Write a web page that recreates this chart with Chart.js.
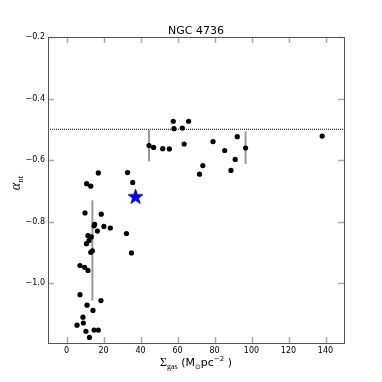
<!DOCTYPE html>
<html>
<head>
<meta charset="utf-8">
<script src="https://cdn.jsdelivr.net/npm/chart.js@4/dist/chart.umd.min.js"></script>
<style>
  html, body { margin: 0; padding: 0; background: #fff; }
  canvas { display: block; }
</style>
</head>
<body>
<canvas id="chart" width="382" height="382"></canvas>
<script>
// gas surface density vs non-thermal spectral index
const gasX = [44.6, 47.1, 52.0, 55.6, 57.7, 58.1, 62.6, 66.0, 63.6, 71.9, 73.7, 79.2, 85.5, 88.9, 91.2, 92.3, 96.8, 138.2,
  17.2, 10.9, 13.1, 33.0, 35.8, 10.0, 18.8, 15.2, 14.9, 20.2, 23.7, 16.7, 32.4, 11.6, 13.4, 10.8, 12.2, 14.0, 13.1, 35.1,
  7.3, 9.8, 11.6, 7.3, 18.6, 11.1, 14.3, 8.9, 9.1, 5.7, 10.5, 14.9, 17.2, 12.4];
const alphaNt = [-0.553, -0.559, -0.563, -0.564, -0.474, -0.498, -0.496, -0.474, -0.548, -0.646, -0.618, -0.540, -0.569, -0.634, -0.598, -0.524, -0.561, -0.522,
  -0.642, -0.677, -0.685, -0.641, -0.673, -0.772, -0.776, -0.809, -0.814, -0.816, -0.821, -0.831, -0.839, -0.846, -0.850, -0.872, -0.862, -0.895, -0.900, -0.902,
  -0.943, -0.949, -0.959, -1.038, -1.057, -1.072, -1.089, -1.111, -1.130, -1.137, -1.157, -1.153, -1.153, -1.177];

// global (integrated) value shown as a star
const starX = [37.3];
const starY = [-0.718];

// representative error bars
const errX = [14.0, 44.6, 96.8];
const errY = [-0.894, -0.553, -0.560];
const errSize = [0.163, 0.051, 0.053];

// reference level (dotted line)
const refLevel = -0.5;

const xTicks = [0, 20, 40, 60, 80, 100, 120, 140];
const yTicks = [-0.2, -0.4, -0.6, -0.8, -1.0];
const xRange = [-10, 150];
const yRange = [-1.195, -0.2];

// five pointed star used as point style
function makeStar(size) {
  const c = document.createElement('canvas');
  c.width = size; c.height = size;
  const g = c.getContext('2d');
  const cx = size / 2, cy = size / 2 + 0.8, ro = size / 2 - 0.6, ri = ro * 0.4;
  g.beginPath();
  for (let i = 0; i < 10; i++) {
    const r = i % 2 === 0 ? ro : ri;
    const a = -Math.PI / 2 + i * Math.PI / 5;
    g.lineTo(cx + r * Math.cos(a), cy + r * Math.sin(a));
  }
  g.closePath();
  g.fillStyle = '#0000ff';
  g.fill();
  g.strokeStyle = '#00008b';
  g.lineWidth = 0.8;
  g.stroke();
  return c;
}

function minusFmt(v) {
  return (v < 0 ? '\u2212' : '') + Math.abs(v).toFixed(1);
}

// frame, inward ticks, title and axis labels
const decor = {
  id: 'decor',
  afterDraw(chart) {
    const { ctx, chartArea: a, scales: { x, y } } = chart;
    ctx.save();

    ctx.strokeStyle = '#aaa';
    ctx.lineWidth = 1.5;
    ctx.beginPath();
    xTicks.forEach(v => {
      const px = Math.round(x.getPixelForValue(v)) + 0.5;
      ctx.moveTo(px, a.bottom); ctx.lineTo(px, a.bottom - 6);
      ctx.moveTo(px, a.top); ctx.lineTo(px, a.top + 6);
    });
    yTicks.forEach(v => {
      const py = Math.round(y.getPixelForValue(v)) + 0.5;
      ctx.moveTo(a.left, py); ctx.lineTo(a.left + 6, py);
      ctx.moveTo(a.right, py); ctx.lineTo(a.right - 6, py);
    });
    ctx.stroke();

    ctx.strokeStyle = '#555';
    ctx.lineWidth = 1;
    ctx.strokeRect(Math.round(a.left) + 0.5, Math.round(a.top) + 0.5, Math.round(a.width), Math.round(a.height));

    // title
    ctx.fillStyle = '#000';
    ctx.font = '11px "DejaVu Sans"';
    ctx.textAlign = 'center';
    ctx.textBaseline = 'alphabetic';
    ctx.fillText('NGC 4736', (a.left + a.right) / 2, 34);

    // x axis label: Σgas (M⊙pc−2)
    const parts = [
      { t: '\u03a3', f: '12px "Liberation Serif"', dy: 0 },
      { t: 'gas', f: '8px "Liberation Serif"', dy: 2.5 },
      { t: ' (M', f: '11px "DejaVu Sans"', dy: 0 },
      { t: '\u2299', f: '7px "DejaVu Sans"', dy: 3 },
      { t: 'pc', f: '11px "DejaVu Sans"', dy: 0 },
      { t: '\u22122', f: '7px "DejaVu Sans"', dy: -5 },
      { t: ' )', f: '11px "DejaVu Sans"', dy: 0 }
    ];
    drawParts(ctx, parts, (a.left + a.right) / 2, 366);

    // y axis label: α_nt
    ctx.translate(19.5, 183);
    ctx.rotate(-Math.PI / 2);
    drawParts(ctx, [
      { t: '\u03b1', f: 'italic 14px "Liberation Serif"', dy: 0 },
      { t: 'nt', f: '9px "Liberation Serif"', dy: 3 }
    ], 0, 0);

    ctx.restore();
  }
};

function drawParts(ctx, parts, cx, base) {
  ctx.textAlign = 'left';
  let w = 0;
  parts.forEach(p => { ctx.font = p.f; w += ctx.measureText(p.t).width; });
  let px = cx - w / 2;
  parts.forEach(p => {
    ctx.font = p.f;
    ctx.fillText(p.t, px, base + p.dy);
    px += ctx.measureText(p.t).width;
  });
}

const tickFont = { family: 'DejaVu Sans', size: 8 };

const datasets = [
  {
    data: starX.map((v, i) => ({ x: v, y: starY[i] })),
    pointStyle: makeStar(17),
    pointRadius: 8
  },
  {
    data: gasX.map((v, i) => ({ x: v, y: alphaNt[i] })),
    backgroundColor: '#000',
    borderWidth: 0,
    pointRadius: 2.6
  }
];
errX.forEach((v, i) => {
  datasets.push({
    type: 'line',
    data: [{ x: v, y: errY[i] - errSize[i] }, { x: v, y: errY[i] + errSize[i] }],
    borderColor: '#999',
    borderWidth: 2,
    pointRadius: 0
  });
});
datasets.push({
  type: 'line',
  data: [{ x: xRange[0], y: refLevel }, { x: xRange[1], y: refLevel }],
  borderColor: '#000',
  borderWidth: 1,
  borderDash: [1, 1],
  pointRadius: 0
});

new Chart(document.getElementById('chart').getContext('2d'), {
  type: 'scatter',
  data: { datasets },
  options: {
    responsive: false,
    animation: false,
    devicePixelRatio: 1,
    layout: { padding: { top: 37, right: 38, left: 0, bottom: 0 } },
    plugins: { legend: { display: false }, tooltip: { enabled: false } },
    scales: {
      x: {
        type: 'linear',
        min: xRange[0],
        max: xRange[1],
        afterBuildTicks: s => { s.ticks = xTicks.map(v => ({ value: v })); },
        afterFit: s => { s.height = 39; },
        ticks: { font: tickFont, color: '#000', padding: 3, maxRotation: 0, autoSkip: false },
        grid: { drawOnChartArea: false, drawTicks: false },
        border: { display: false }
      },
      y: {
        type: 'linear',
        min: yRange[0],
        max: yRange[1],
        afterBuildTicks: s => { s.ticks = yTicks.map(v => ({ value: v })); },
        afterFit: s => { s.width = 48; },
        ticks: { font: tickFont, color: '#000', padding: 3, autoSkip: false, callback: minusFmt },
        grid: { drawOnChartArea: false, drawTicks: false },
        border: { display: false }
      }
    }
  },
  plugins: [decor]
});
</script>
</body>
</html>
